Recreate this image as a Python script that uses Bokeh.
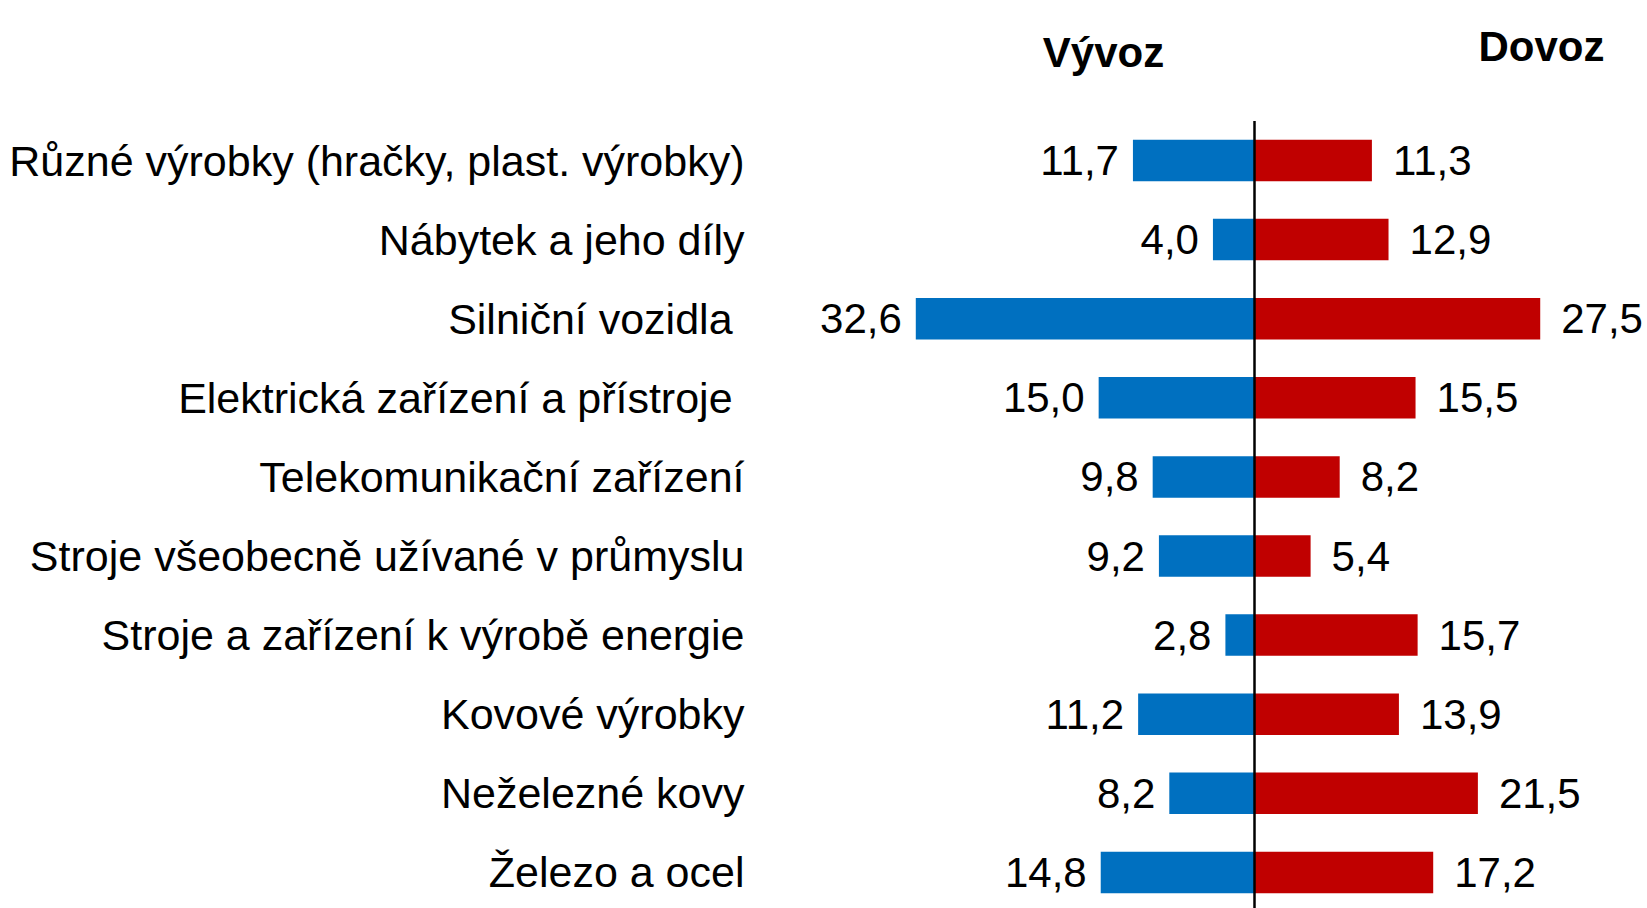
from bokeh.plotting import figure
from bokeh.models import ColumnDataSource, Range1d, Label
from bokeh.core.properties import value
from bokeh.embed import file_html
from bokeh.resources import INLINE

categories = [
    "Různé výrobky (hračky, plast. výrobky)",
    "Nábytek a jeho díly",
    "Silniční vozidla\u00a0",
    "Elektrická zařízení a přístroje\u00a0",
    "Telekomunikační zařízení",
    "Stroje všeobecně užívané v průmyslu",
    "Stroje a zařízení k výrobě energie",
    "Kovové výrobky",
    "Neželezné kovy",
    "Železo a ocel",
]
vyvoz = [11.7, 4.0, 32.6, 15.0, 9.8, 9.2, 2.8, 11.2, 8.2, 14.8]
dovoz = [11.3, 12.9, 27.5, 15.5, 8.2, 5.4, 15.7, 13.9, 21.5, 17.2]
series_titles = ["Vývoz", "Dovoz"]

W, H = 1647, 908
CENTER = 1254.0      # canvas x of the zero line
PX_PER_UNIT = 10.39
ROW0 = 160.0         # canvas y of first row centre
ROW_STEP = 79.1

FONT = "Liberation Sans"
FS = "42px"
FS_CAT = "43px"

def fmt(v):
    return f"{v:.1f}".replace(".", ",")

n = len(categories)
ypos = list(range(n))
src = ColumnDataSource(dict(
    y=ypos,
    cat=categories,
    vyvoz_neg=[-v for v in vyvoz],
    dovoz=dovoz,
    vyvoz_lbl=[fmt(v) for v in vyvoz],
    dovoz_lbl=[fmt(v) for v in dovoz],
    zero=[0] * n,
))

x_range = Range1d(-CENTER / PX_PER_UNIT, (W - CENTER) / PX_PER_UNIT)
y_range = Range1d((H - ROW0) / ROW_STEP, -ROW0 / ROW_STEP)

p = figure(width=W, height=H, x_range=x_range, y_range=y_range,
           output_backend="svg", toolbar_location=None,
           x_axis_location=None, y_axis_location=None,
           min_border=0, outline_line_color=None)
p.grid.visible = False
p.background_fill_color = "white"
p.border_fill_color = "white"

bar_h = 0.525
p.hbar(y="y", left="vyvoz_neg", right="zero", height=bar_h, source=src,
       fill_color="#0070C0", line_color=None)
p.hbar(y="y", left="zero", right="dovoz", height=bar_h, source=src,
       fill_color="#C00000", line_color=None)

# zero line
p.segment(x0=[0], y0=[-0.5], x1=[0], y1=[n - 0.5], line_color="black", line_width=2.5)

# value labels
p.text(x="vyvoz_neg", y="y", text="vyvoz_lbl", source=src, x_offset=-14,
       text_align="right", text_baseline="middle", text_font=value(FONT),
       text_font_size=FS, text_color="black")
p.text(x="dovoz", y="y", text="dovoz_lbl", source=src, x_offset=21,
       text_align="left", text_baseline="middle", text_font=value(FONT),
       text_font_size=FS, text_color="black")

# category labels
p.text(x="zero", y="y", text="cat", source=src, x_offset=-(CENTER - 744),
       text_align="right", text_baseline="middle", text_font=value(FONT),
       text_font_size=FS_CAT, text_color="black")

# column titles
p.add_layout(Label(x=(1103 - CENTER) / PX_PER_UNIT, y=(51.7 - ROW0) / ROW_STEP,
                   text=series_titles[0], text_align="center", text_baseline="alphabetic",
                   text_font=FONT, text_font_size=FS, text_font_style="bold",
                   text_color="black"))
p.add_layout(Label(x=(1541 - CENTER) / PX_PER_UNIT, y=(45.7 - ROW0) / ROW_STEP,
                   text=series_titles[1], text_align="center", text_baseline="alphabetic",
                   text_font=FONT, text_font_size=FS, text_font_style="bold",
                   text_color="black"))

open("out.html", "w").write(file_html(p, INLINE))
